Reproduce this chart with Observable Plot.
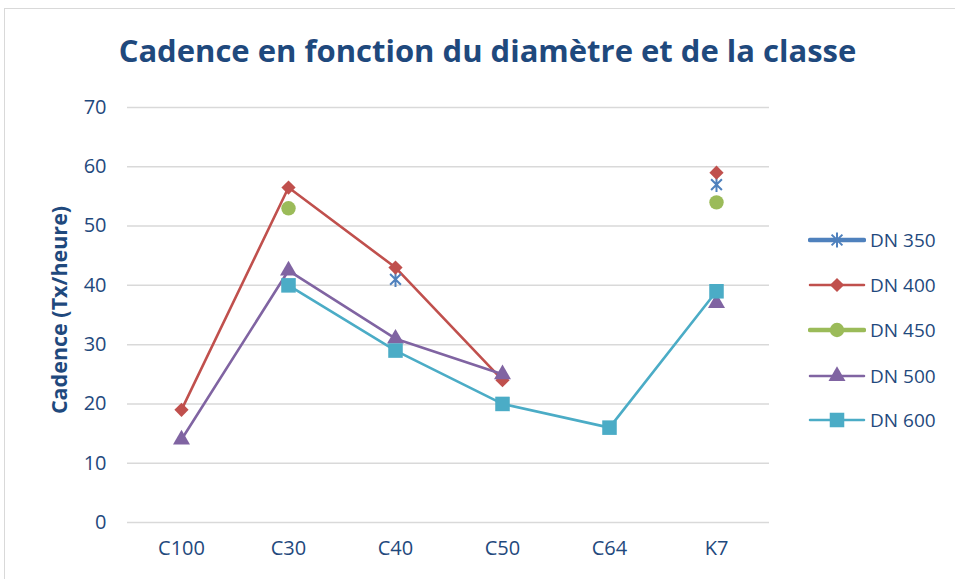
<!DOCTYPE html>
<html>
<head>
<meta charset="utf-8">
<script src="https://cdn.jsdelivr.net/npm/d3@7"></script>
<script src="https://cdn.jsdelivr.net/npm/@observablehq/plot@0.6"></script>
<style>
  html, body { margin: 0; padding: 0; background: #fff; }
  #wrap { position: relative; width: 955px; height: 579px; overflow: hidden; font-family: "Open Sans", sans-serif; }
  #frame { position: absolute; left: 4px; top: 8px; width: 1000px; height: 1000px; border-left: 1.5px solid #d9d9d9; border-top: 1.5px solid #d9d9d9; }
  #title { position: absolute; left: 0; width: 975px; top: 29px; text-align: center; font-weight: 700; font-size: 31px; color: #1f497d; white-space: nowrap; }
  #chart { position: absolute; left: 0; top: 0; }
  #legend { position: absolute; left: 808px; top: 0; }
  .item { position: absolute; left: 0; display: flex; align-items: center; white-space: nowrap; font-size: 19px; color: #1f497d; }
  .item svg { margin-right: 4px; }
</style>
</head>
<body>
<div id="wrap">
  <div id="frame"></div>
  <div id="chart"></div>
  <div id="title">Cadence en fonction du diamètre et de la classe</div>
  <div id="legend"></div>
</div>
<script>
// ---- data ----
const categories = ["C100", "C30", "C40", "C50", "C64", "K7"];
const seriesNames = ["DN 350", "DN 400", "DN 450", "DN 500", "DN 600"];
const dn350 = [null, null, 41, null, null, 57];
const dn400 = [19, 56.5, 43, 24, null, 59];
const dn450 = [null, 53, null, null, null, 54];
const dn500 = [14, 42.5, 31, 25, null, 37];
const dn600 = [null, 40, 29, 20, 16, 39];
const yTicks = [0, 10, 20, 30, 40, 50, 60, 70];
const colors = ["#4f81bd", "#c0504d", "#9bbb59", "#8064a2", "#4bacc6"];
const yLabel = "Cadence (Tx/heure)";

const seriesValues = [dn350, dn400, dn450, dn500, dn600];
const rows = [];
seriesValues.forEach((vals, i) => {
  vals.forEach((v, j) => rows.push({series: seriesNames[i], cat: categories[j], value: v}));
});

// custom Excel-like star marker (X + vertical bar)
const starSymbol = {
  draw(ctx, size) {
    const r = Math.sqrt(size / Math.PI);
    const d = r * 0.72;
    ctx.moveTo(-d, -d); ctx.lineTo(d, d);
    ctx.moveTo(-d, d); ctx.lineTo(d, -d);
    ctx.moveTo(0, -r); ctx.lineTo(0, r);
  }
};

const markerSpec = {
  "DN 350": {symbol: starSymbol, r: 7.5, stroke: true},
  "DN 400": {symbol: "diamond2", r: 6.4},
  "DN 450": {symbol: "circle", r: 7.2},
  "DN 500": {symbol: "triangle", r: 6.3},
  "DN 600": {symbol: "square", r: 8.2}
};

const textColor = "#1f497d";

const marks = [
  Plot.gridY(yTicks, {stroke: "#d9d9d9", strokeOpacity: 1, strokeWidth: 1.5}),
  Plot.axisY(yTicks, {tickSize: 0, tickPadding: 21, fontSize: 20, fill: textColor, label: null}),
  Plot.axisX({tickSize: 0, tickPadding: 18, fontSize: 20, fill: textColor, label: null}),
  Plot.text([yLabel], {frameAnchor: "left", textAnchor: "middle", dx: -67, dy: -5, rotate: -90, fontSize: 21.5, fontWeight: 700, fill: textColor})
];

seriesNames.forEach((name, i) => {
  const data = rows.filter(d => d.series === name);
  marks.push(Plot.line(data, {x: "cat", y: "value", stroke: colors[i], strokeWidth: 2.6}));
});
seriesNames.forEach((name, i) => {
  const data = rows.filter(d => d.series === name && d.value != null);
  const m = markerSpec[name];
  marks.push(Plot.dot(data, m.stroke
    ? {x: "cat", y: "value", symbol: m.symbol, r: m.r, stroke: colors[i], fill: "none", strokeWidth: 2}
    : {x: "cat", y: "value", symbol: m.symbol, r: m.r, fill: colors[i], stroke: "none"}));
});

const chart = Plot.plot({
  width: 955,
  height: 579,
  marginTop: 107,
  marginBottom: 57,
  marginLeft: 127,
  marginRight: 186,
  style: {fontFamily: "'Open Sans', sans-serif", background: "transparent"},
  x: {type: "point", domain: categories, padding: 0.5, axis: null},
  y: {domain: [0, 70], axis: null},
  marks
});
document.getElementById("chart").appendChild(chart);

// ---- legend ----
const legend = document.getElementById("legend");
const legendY = [240, 285, 330, 376, 420];
const legendLineWidth = [4.5, 2.5, 4.5, 2.5, 2.5];
seriesNames.forEach((name, i) => {
  const item = document.createElement("div");
  item.className = "item";
  item.style.top = (legendY[i] - 13) + "px";
  const w = 58, h = 26, cx = 29, cy = 13;
  const svg = d3.create("svg").attr("width", w).attr("height", h);
  svg.append("line").attr("x1", 2).attr("x2", w - 2).attr("y1", cy).attr("y2", cy)
    .attr("stroke", colors[i]).attr("stroke-width", legendLineWidth[i]).attr("stroke-linecap", "round");
  const m = markerSpec[name];
  const size = Math.PI * m.r * m.r;
  const sym = typeof m.symbol === "string"
    ? {diamond2: d3.symbolDiamond2, circle: d3.symbolCircle, triangle: d3.symbolTriangle, square: d3.symbolSquare}[m.symbol]
    : m.symbol;
  const p = svg.append("path").attr("transform", `translate(${cx},${cy})`).attr("d", d3.symbol(sym, size)());
  if (m.stroke) p.attr("fill", "none").attr("stroke", colors[i]).attr("stroke-width", 2);
  else p.attr("fill", colors[i]);
  item.appendChild(svg.node());
  const span = document.createElement("span");
  span.textContent = name;
  item.appendChild(span);
  legend.appendChild(item);
});
</script>
</body>
</html>
